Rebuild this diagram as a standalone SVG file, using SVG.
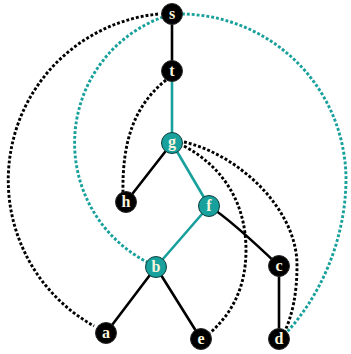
<svg xmlns="http://www.w3.org/2000/svg" width="351" height="354" viewBox="0 0 351 354">
  <style>
    .tree { fill: none; stroke: #000; stroke-width: 2.6; stroke-linecap: round; }
    .tree.hl { stroke: #17a09c; }
    .back { fill: none; stroke: #000; stroke-width: 2.9; stroke-dasharray: 2.9 2; }
    .back.hl { stroke: #17a09c; }
    .node circle { fill: #000; stroke: #2a2a2a; stroke-width: 1; }
    .node.hl circle { fill: #17a09c; stroke: #0d3f3d; }
    .node text { font-family: "Liberation Serif", "DejaVu Serif", serif; font-weight: bold; font-size: 16px; fill: #fbf6de; text-anchor: middle; }
  </style>

  <rect width="351" height="354" fill="#fff"/>

  <g id="connectors">
    <!-- non-tree (dotted) edges -->
    <path class="back" d="M158,14 A167,167 0 0 0 94,326"/>
    <path class="back hl" d="M163,17 A134,134 0 0 0 147,262"/>
    <path class="back hl" d="M182,14 A166,166 0 0 1 346,178 C346,240 320,296 287,332"/>
    <path class="back" d="M166,80 C135,105 122,140 123,193"/>
    <path class="back" d="M184,142 C240,155 297,210 297,265 C297,295 292,315 285,331"/>
    <path class="back" d="M184,146 C225,168 246,205 246,250 C246,290 230,315 210,333"/>

    <!-- tree edges -->
    <path class="tree" d="M172,14 L172,71"/>
    <path class="tree hl" d="M172,71 L172,143"/>
    <path class="tree" d="M172,143 L126,202"/>
    <path class="tree hl" d="M172,143 L209,206"/>
    <path class="tree hl" d="M209,206 L156,267"/>
    <path class="tree" d="M209,206 Q231,220 279,266"/>
    <path class="tree" d="M156,267 L106,333"/>
    <path class="tree" d="M156,267 L201,339"/>
    <path class="tree" d="M279,266 L279,339"/>
  </g>

  <g id="node-s" class="node"><circle cx="172" cy="14" r="10.5"/><text x="172" y="19">s</text></g>
  <g id="node-t" class="node"><circle cx="172" cy="71" r="10.5"/><text x="172" y="76">t</text></g>
  <g id="node-g" class="node hl"><circle cx="172" cy="143" r="10.5"/><text x="172" y="147">g</text></g>
  <g id="node-h" class="node"><circle cx="126" cy="202" r="10.5"/><text x="126" y="207">h</text></g>
  <g id="node-f" class="node hl"><circle cx="209" cy="206" r="10.5"/><text x="209" y="211">f</text></g>
  <g id="node-b" class="node hl"><circle cx="156" cy="267" r="10.5"/><text x="156" y="272">b</text></g>
  <g id="node-c" class="node"><circle cx="279" cy="266" r="10.5"/><text x="279" y="271">c</text></g>
  <g id="node-a" class="node"><circle cx="106" cy="333" r="10.5"/><text x="106" y="338">a</text></g>
  <g id="node-e" class="node"><circle cx="201" cy="339" r="10.5"/><text x="201" y="344">e</text></g>
  <g id="node-d" class="node"><circle cx="279" cy="339" r="10.5"/><text x="279" y="344">d</text></g>
</svg>
